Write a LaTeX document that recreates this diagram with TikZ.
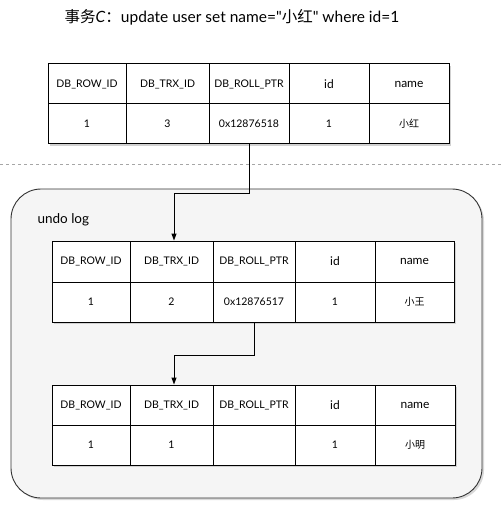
\documentclass[tikz,border=0pt]{standalone}
\usepackage{fontspec}
\setmainfont{Lato}[Ligatures=TeXOff]
\newfontfamily\cjk{Noto Sans CJK SC}
\usetikzlibrary{fit,arrows.meta,calc}
\tikzset{
  cell/.style={draw=black, line width=1pt, fill=white, inner sep=0pt,
    font=\fontsize{10.5}{12}\selectfont},
  big/.style={font=\fontsize{12}{14}\selectfont},
  cn/.style={font=\cjk\fontsize{10}{12}\selectfont},
  tabshadow/.style={fill=black!18},
  undobox/.style={draw=black!80, line width=0.9pt, fill=black!4, rounded corners=30pt, inner sep=0pt},
  link/.style={draw=black, line width=1pt, -{Triangle[length=7pt,width=5pt]}},
  sep/.style={draw=black!35, line width=0.6pt, dash pattern=on 3pt off 3pt},
}
\newcommand\cel[7]{\node[cell,#6,minimum width={(#4-#2)*1pt},minimum height={(#5-#3)*1pt}]
  (#1) at ({(#2+#4)/2},{(#3+#5)/2}) {#7};}
\begin{document}
\begin{tikzpicture}[x=1pt,y=-1pt]
\useasboundingbox (0,0) rectangle (501,505);
% title
\node[font=\fontsize{15.5}{18}\selectfont, anchor=center] (title) at (232,17)
  {{\cjk 事务}\textit{C}{\cjk ：}update user set name="{\cjk 小红}" where id=1};
% separator
\coordinate (sepL) at (0,164);
\coordinate (sepR) at (501,164);
\draw[sep] (sepL) -- (sepR);
% undo log box
\fill[black!15, rounded corners=30pt] (13,191) rectangle (484,500);
\node[undobox, fit={(11,189)(482,498)}] (undo) {};
\node[font=\fontsize{13.5}{15}\selectfont, anchor=west] (undolbl) at (34,220) {undo log};

% ---- table 1 ----
\fill[tabshadow] (50,66) rectangle (451,146);
\cel{a11}{48}{64}{126}{104}{}{DB\_ROW\_ID}
\cel{a12}{126}{64}{209}{104}{}{DB\_TRX\_ID}
\cel{a13}{209}{64}{289}{104}{}{DB\_ROLL\_PTR}
\cel{a14}{289}{64}{369}{104}{big}{id}
\cel{a15}{369}{64}{449}{104}{big}{name}
\cel{a21}{48}{104}{126}{144}{}{1}
\cel{a22}{126}{104}{209}{144}{}{3}
\cel{a23}{209}{104}{289}{144}{}{0x12876518}
\cel{a24}{289}{104}{369}{144}{}{1}
\cel{a25}{369}{104}{449}{144}{cn}{小红}

% ---- table 2 ----
\fill[tabshadow] (54,243) rectangle (456,324);
\cel{b11}{52}{241}{130}{282}{}{DB\_ROW\_ID}
\cel{b12}{130}{241}{213}{282}{}{DB\_TRX\_ID}
\cel{b13}{213}{241}{295}{282}{}{DB\_ROLL\_PTR}
\cel{b14}{295}{241}{375}{282}{big}{id}
\cel{b15}{375}{241}{454}{282}{big}{name}
\cel{b21}{52}{282}{130}{322}{}{1}
\cel{b22}{130}{282}{213}{322}{}{2}
\cel{b23}{213}{282}{295}{322}{}{0x12876517}
\cel{b24}{295}{282}{375}{322}{}{1}
\cel{b25}{375}{282}{454}{322}{cn}{小王}

% ---- table 3 ----
\fill[tabshadow] (54,387) rectangle (457,467);
\cel{c11}{52}{385}{130}{425}{}{DB\_ROW\_ID}
\cel{c12}{130}{385}{213}{425}{}{DB\_TRX\_ID}
\cel{c13}{213}{385}{295}{425}{}{DB\_ROLL\_PTR}
\cel{c14}{295}{385}{375}{425}{big}{id}
\cel{c15}{375}{385}{455}{425}{big}{name}
\cel{c21}{52}{425}{130}{465}{}{1}
\cel{c22}{130}{425}{213}{465}{}{1}
\cel{c23}{213}{425}{295}{465}{}{}
\cel{c24}{295}{425}{375}{465}{}{1}
\cel{c25}{375}{425}{455}{465}{cn}{小明}

% ---- links ----
\coordinate (k1) at (0,193);
\coordinate (k2) at (0,355);
\draw[link] (a23.south) -- (a23.south |- k1) -| ($(b12.north)+(2.5,0)$);
\draw[link] (b23.south) -- (b23.south |- k2) -| ($(c12.north)+(2.5,0)$);
\end{tikzpicture}
\end{document}
